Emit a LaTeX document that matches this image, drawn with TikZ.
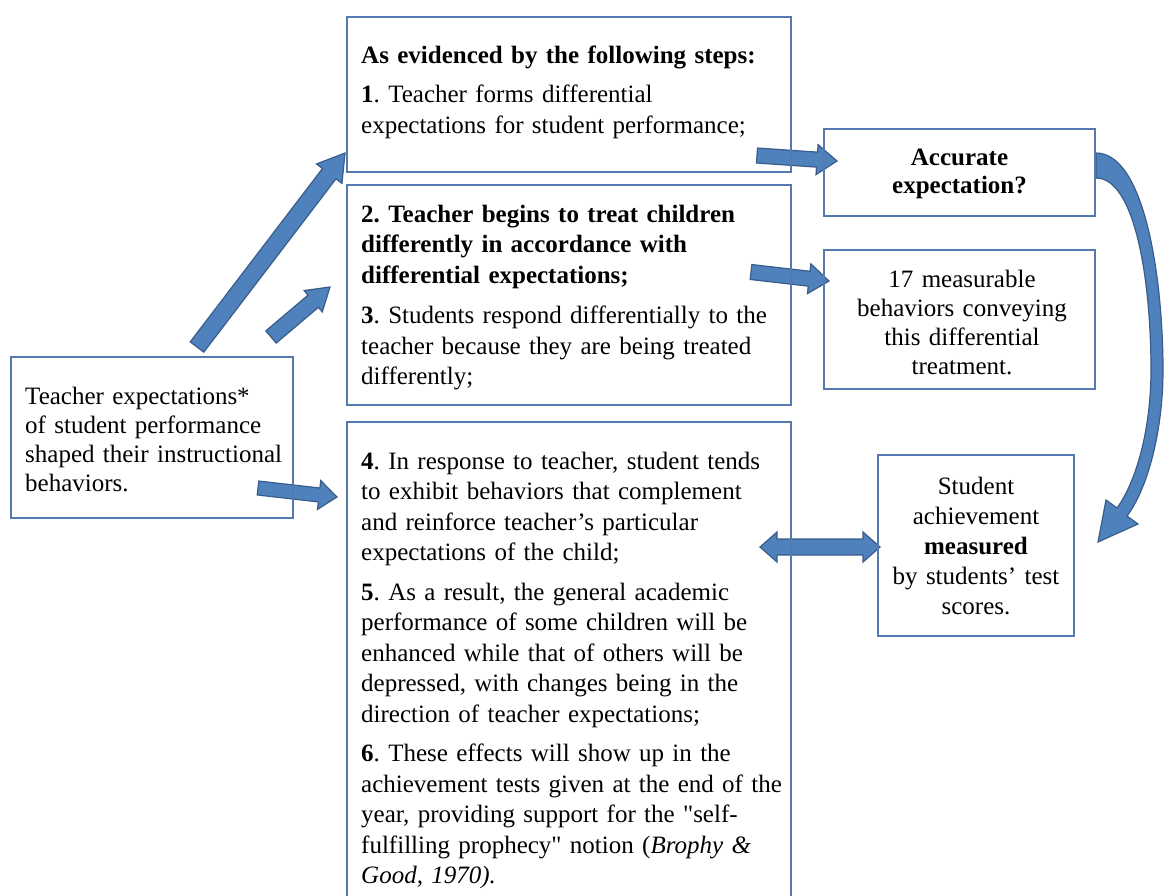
\documentclass[tikz,border=0pt]{standalone}
\usepackage{fontspec}
\setmainfont{Liberation Serif}
\usetikzlibrary{calc}
\frenchspacing

\definecolor{arrowblue}{RGB}{79,129,189}
\definecolor{arrowedge}{RGB}{56,93,138}
\definecolor{boxedge}{RGB}{84,122,176}

\tikzset{
  box/.style={draw=boxedge, line width=1.3pt, rectangle, inner sep=0pt},
  para/.style={inner sep=0pt, anchor=base west, align=left, text width=#1},
  ctext/.style={inner sep=0pt, anchor=base, align=center, text width=#1},
  blockarrow/.style={fill=arrowblue, draw=arrowedge, line width=1.2pt, line join=miter},
}

% straight block arrow: tail, tip, half shaft, half head, head length
\newcommand\blockarrow[5]{%
  \coordinate (bah) at ($(#2)!#5!(#1)$);
  \filldraw[blockarrow]
    ($(#1)!#3!90:(#2)$) -- ($(bah)!#3!90:(#2)$) -- ($(bah)!#4!90:(#2)$) -- (#2)
    -- ($(bah)!#4!-90:(#2)$) -- ($(bah)!#3!-90:(#2)$) -- ($(#1)!#3!-90:(#2)$) -- cycle;
}
% double-headed block arrow: end a, end b, half shaft, half head, head length
\newcommand\dblarrow[5]{%
  \coordinate (dha) at ($(#1)!#5!(#2)$);
  \coordinate (dhb) at ($(#2)!#5!(#1)$);
  \filldraw[blockarrow]
    (#1) -- ($(dha)!#4!90:(#2)$) -- ($(dha)!#3!90:(#2)$) -- ($(dhb)!#3!90:(#2)$)
    -- ($(dhb)!#4!90:(#2)$) -- (#2) -- ($(dhb)!#4!-90:(#2)$) -- ($(dhb)!#3!-90:(#2)$)
    -- ($(dha)!#3!-90:(#2)$) -- ($(dha)!#4!-90:(#2)$) -- cycle;
}

\begin{document}
\begin{tikzpicture}[x=1pt,y=-1pt]
\clip (0,0) rectangle (1165,895);
\fill[white] (0,0) rectangle (1165,895);

% arrow end points
\coordinate (a1t) at (197,347);  \coordinate (a1h) at (345,153);
\coordinate (a2t) at (271,337);  \coordinate (a2h) at (330,287);
\coordinate (a3t) at (757,155.5);\coordinate (a3h) at (837,161);
\coordinate (a4t) at (751,272);  \coordinate (a4h) at (829,281);
\coordinate (a5t) at (258,488);  \coordinate (a5h) at (337,497);
\coordinate (a6l) at (760,547);  \coordinate (a6r) at (880,547);

% arrows
\blockarrow{a1t}{a1h}{8.5pt}{16pt}{26pt}
\blockarrow{a2t}{a2h}{8pt}{14pt}{22pt}
\blockarrow{a3t}{a3h}{7.5pt}{15pt}{20pt}
\blockarrow{a4t}{a4h}{7.5pt}{15pt}{20pt}
\blockarrow{a5t}{a5h}{7pt}{14.5pt}{18pt}
\dblarrow{a6l}{a6r}{8pt}{15pt}{17pt}

% curved arrow from the accuracy question down to achievement
\filldraw[blockarrow]
  (1096,153) .. controls (1145,153) and (1163,280) .. (1163,370)
  .. controls (1163,430) and (1148,488) .. (1127,516)
  -- (1138,524) -- (1098,542) -- (1106,500) -- (1117,508)
  .. controls (1136,482) and (1151,430) .. (1151,370)
  .. controls (1151,280) and (1135,178) .. (1096,178) -- cycle;

% boxes
\node[box, minimum width=444pt, minimum height=155pt] (stepsA) at (569,94.5) {};
\node[box, minimum width=444pt, minimum height=220pt] (stepsB) at (569,295) {};
\node[box, minimum width=444pt, minimum height=488pt] (stepsC) at (569,666) {};
\node[box, minimum width=282pt, minimum height=161pt] (expect) at (152,437.5) {};
\node[box, minimum width=271pt, minimum height=87pt] (accurate) at (959.5,172.5) {};
\node[box, minimum width=271pt, minimum height=139pt] (measurable) at (959.5,319.5) {};
\node[box, minimum width=196pt, minimum height=181pt] (achieve) at (976,545.5) {};

% texts
\node[para=440pt, font=\fontsize{25}{31}\selectfont] (tA) at (361,63)
  {\textbf{As evidenced by the following steps:}\\[8pt]
   \textbf{1}. Teacher forms differential\\
   expectations for student performance;};

\node[para=440pt, font=\fontsize{25}{30.5}\selectfont] (tB) at (361,222)
  {\textbf{2. Teacher begins to treat children}\\
   \textbf{differently in accordance with}\\
   \textbf{differential expectations;}\\[10pt]
   \textbf{3}. Students respond differentially to the\\
   teacher because they are being treated\\
   differently;};

\node[para=440pt, font=\fontsize{25}{30.5}\selectfont] (tC) at (361,469)
  {\textbf{4}. In response to teacher, student tends\\
   to exhibit behaviors that complement\\
   and reinforce teacher’s particular\\
   expectations of the child;\\[9pt]
   \textbf{5}. As a result, the general academic\\
   performance of some children will be\\
   enhanced while that of others will be\\
   depressed, with changes being in the\\
   direction of teacher expectations;\\[9pt]
   \textbf{6}. These effects will show up in the\\
   achievement tests given at the end of the\\
   year, providing support for the \textquotedbl self-\\
   fulfilling prophecy\textquotedbl{} notion (\textit{Brophy \&}\\
   \textit{Good, 1970).}};

\node[para=265pt, font=\fontsize{25}{29}\selectfont] (tExpect) at (25,404)
  {Teacher expectations*\\
   of student performance\\
   shaped their instructional\\
   behaviors.};

\node[ctext=260pt, font=\fontsize{25}{28}\selectfont\bfseries] (tAccurate) at (959.5,165)
  {Accurate\\expectation?};

\node[ctext=260pt, font=\fontsize{25}{29}\selectfont] (tMeasurable) at (962,287)
  {17 measurable\\behaviors conveying\\this differential\\treatment.};

\node[ctext=190pt, font=\fontsize{25}{30}\selectfont] (tAchieve) at (976,494)
  {Student\\achievement\\\textbf{measured}\\by students’ test\\scores.};
\end{tikzpicture}
\end{document}
